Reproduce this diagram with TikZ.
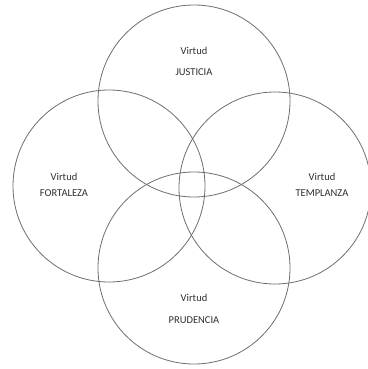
\documentclass[tikz,border=0pt]{standalone}
\usepackage{fontspec}
\setmainfont{Carlito}
\definecolor{ring}{HTML}{6E6E6E}
\definecolor{txt}{HTML}{2E2E2E}

\begin{document}
\begin{tikzpicture}[
  x=1pt, y=-1pt,
  virtud/.style={circle, draw=ring, line width=0.8pt, minimum size=192pt, inner sep=0pt},
  word/.style={font=\fontsize{10.5}{13}\selectfont, text=txt}
]
\useasboundingbox (0,0) rectangle (367,369);

% circles
\node[virtud] (just) at (194,101) {};
\node[virtud] (fort) at (109,186) {};
\node[virtud] (temp) at (275,188) {};
\node[virtud] (prud) at (194,268) {};

% labels
\node[word] (justa) at (194,51) {Virtud};
\node[word] (justb) at (194,72) {JUSTICIA};
\node[word] (forta) at (64,177) {Virtud};
\node[word] (fortb) at (64,193) {FORTALEZA};
\node[word] (tempa) at (322,177) {Virtud};
\node[word] (tempb) at (322,193) {TEMPLANZA};
\node[word] (pruda) at (194,298) {Virtud};
\node[word] (prudb) at (194,320) {PRUDENCIA};
\end{tikzpicture}
\end{document}
